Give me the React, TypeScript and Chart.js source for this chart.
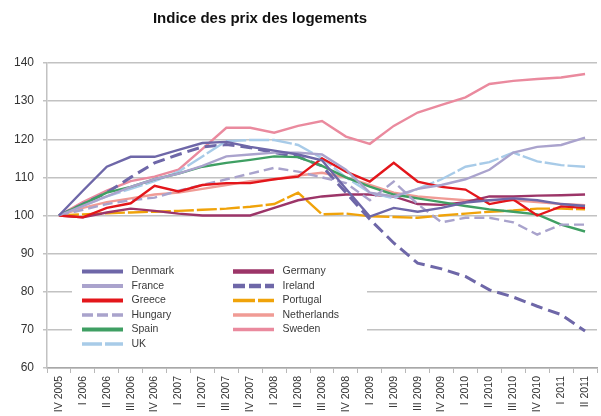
import React, { useEffect, useRef } from "react";
import { Chart, registerables } from "chart.js";

Chart.register(...registerables);

const TITLE = "Indice des prix des logements";

const categories = [
  "IV 2005", "I 2006", "II 2006", "III 2006", "IV 2006", "I 2007", "II 2007", "III 2007",
  "IV 2007", "I 2008", "II 2008", "III 2008", "IV 2008", "I 2009", "II 2009", "III 2009",
  "IV 2009", "I 2010", "II 2010", "III 2010", "IV 2010", "I 2011", "II 2011",
];

const denmark = [100, 106.5, 112.8, 115.4, 115.4, 117.2, 119, 119.3, 118, 117, 116, 114.5, 107, 99.7, 102, 101, 102, 103.4, 104, 104.5, 104, 103, 102.5];
const france = [100, 102.5, 105, 107.5, 109.5, 111, 113, 115.5, 116, 116.5, 116.5, 116, 112, 106, 105, 107, 108, 109.5, 112, 116.5, 118, 118.5, 120.4];
const greece = [100, 99.5, 102, 103.2, 107.8, 106.3, 108, 108.5, 108.5, 109.5, 110.2, 115, 111.5, 108.9, 113.8, 108.9, 107.5, 106.8, 103, 104.2, 100, 102.4, 102];
const hungary = [100, 101.5, 103, 104, 104.7, 106.5, 108, 109.5, 111, 112.5, 111.5, 110, 108.5, 104, 108.9, 103, 98.2, 99.4, 99.4, 98.2, 95, 97.6, 97.6];
const spain = [100, 103, 106, 107.5, 109.5, 111, 112.8, 113.8, 114.6, 115.5, 115.3, 113, 110, 107.6, 105.5, 104.5, 103.5, 102.5, 101.6, 101, 100.3, 97.6, 95.8];
const uk = [100, 102.5, 105, 107, 109, 111.5, 115.5, 119.5, 119.8, 119.8, 118.5, 115, 110, 106, 104.5, 107, 109.5, 112.8, 114, 116.5, 114.2, 113.2, 112.8];
const germany = [100, 99.5, 100.8, 101.8, 101.2, 100.5, 100, 100, 100, 102, 104, 105, 105.5, 105.5, 105, 103, 102.8, 103.5, 105, 105, 105.2, 105.3, 105.5];
const ireland = [100, 103, 106, 110, 113.8, 116, 118, 118.6, 117.8, 116.5, 115.4, 113, 106, 99, 92.8, 87.5, 86, 84, 80.5, 78.6, 76.2, 74, 69.7];
const portugal = [100, 100.3, 100.6, 100.8, 101, 101.2, 101.5, 101.8, 102.3, 103, 106, 100.3, 100.5, 99.8, 99.6, 99.4, 100, 100.5, 101, 101.3, 101.8, 101.8, 101.6];
const netherlands = [100, 102, 103.5, 104.5, 105.5, 106, 107, 108, 109, 109.5, 110.5, 111.2, 110, 108, 106, 105, 104.5, 104, 104, 104, 103.5, 103, 102.7];
const sweden = [100, 103.5, 106.5, 109, 110.2, 112, 117.5, 123, 123, 121.7, 123.5, 124.8, 120.7, 118.8, 123.5, 127, 129, 131, 134.5, 135.3, 135.8, 136.2, 137.1];

const yTicks = [60, 70, 80, 90, 100, 110, 120, 130, 140];

const SANS = '"Liberation Sans", Arial, Helvetica, sans-serif';

type SeriesDef = {
  label: string;
  data: number[];
  color: string;
  dash: number[];
  legendDash: number[];
  width: number;
  legendWidth: number;
};

const series: SeriesDef[] = [
  { label: "Denmark", data: denmark, color: "#6e67a8", dash: [], legendDash: [], width: 2.4, legendWidth: 4 },
  { label: "France", data: france, color: "#aaa3cd", dash: [], legendDash: [], width: 2.4, legendWidth: 4 },
  { label: "Greece", data: greece, color: "#e3161b", dash: [], legendDash: [], width: 2.4, legendWidth: 4 },
  { label: "Hungary", data: hungary, color: "#a9a3cc", dash: [10, 5], legendDash: [11, 4], width: 2.4, legendWidth: 3.5 },
  { label: "Spain", data: spain, color: "#3f9f63", dash: [], legendDash: [], width: 2.4, legendWidth: 4 },
  { label: "UK", data: uk, color: "#a8cbe8", dash: [20, 3], legendDash: [20, 3], width: 2.4, legendWidth: 3.5 },
  { label: "Germany", data: germany, color: "#9c3568", dash: [], legendDash: [], width: 2.4, legendWidth: 4.5 },
  { label: "Ireland", data: ireland, color: "#6e67a8", dash: [12, 6], legendDash: [12, 4], width: 3, legendWidth: 4.5 },
  { label: "Portugal", data: portugal, color: "#f0a30a", dash: [20, 3], legendDash: [22, 3], width: 2.4, legendWidth: 3.5 },
  { label: "Netherlands", data: netherlands, color: "#f09b95", dash: [], legendDash: [], width: 2.4, legendWidth: 3.5 },
  { label: "Sweden", data: sweden, color: "#ea8a9e", dash: [], legendDash: [], width: 2.4, legendWidth: 3.5 },
];

const titlePlugin = {
  id: "customTitle",
  afterDraw(chart: any) {
    const ctx = chart.ctx;
    ctx.save();
    ctx.font = "bold 15px " + SANS;
    ctx.fillStyle = "#111";
    ctx.textAlign = "center";
    ctx.textBaseline = "alphabetic";
    ctx.fillText(TITLE, 260, 23);
    ctx.restore();
  },
};

const boxLegendPlugin = {
  id: "boxLegend",
  beforeDatasetsDraw(chart: any) {
    const ctx = chart.ctx;
    ctx.save();
    ctx.fillStyle = "#ffffff";
    ctx.fillRect(72, 258, 295, 98);
    series.forEach((s, i) => {
      const col = i < 6 ? 0 : 1;
      const row = i < 6 ? i : i - 6;
      const y = 271.5 + row * 14.5;
      const x0 = col === 0 ? 82 : 233;
      ctx.strokeStyle = s.color;
      ctx.lineWidth = s.legendWidth;
      ctx.setLineDash(s.legendDash);
      ctx.beginPath();
      ctx.moveTo(x0, y);
      ctx.lineTo(x0 + 41, y);
      ctx.stroke();
      ctx.setLineDash([]);
      ctx.fillStyle = "#3a3a3a";
      ctx.font = "10.5px " + SANS;
      ctx.textAlign = "left";
      ctx.textBaseline = "middle";
      ctx.fillText(s.label, x0 + 49.5, y);
    });
    ctx.restore();
  },
};

export default function App() {
  const canvasRef = useRef<HTMLCanvasElement | null>(null);

  useEffect(() => {
    if (!canvasRef.current) return;
    const chart = new Chart(canvasRef.current, {
      type: "line",
      data: {
        labels: categories,
        datasets: series.map((s) => ({
          label: s.label,
          data: s.data,
          borderColor: s.color,
          backgroundColor: s.color,
          borderWidth: s.width,
          borderDash: s.dash,
          pointRadius: 0,
          pointHoverRadius: 0,
          tension: 0,
          fill: false,
        })),
      },
      options: {
        responsive: false,
        animation: false,
        devicePixelRatio: 1,
        layout: { padding: { top: 63, right: 4, left: 0, bottom: 0 } },
        plugins: {
          legend: { display: false },
          title: { display: false },
          tooltip: { enabled: false },
        },
        scales: {
          x: {
            type: "category",
            offset: true,
            grid: {
              drawOnChartArea: false,
              drawTicks: true,
              offset: true,
              tickLength: 5,
              color: "#b8b8b8",
              lineWidth: 1,
            },
            border: { display: true, color: "#a8a8a8", width: 1.5 },
            ticks: {
              autoSkip: false,
              maxRotation: 90,
              minRotation: 90,
              padding: 3,
              color: "#333",
              font: { family: SANS, size: 10.5 },
            },
            afterFit: (s: any) => {
              s.height = 48;
            },
          },
          y: {
            type: "linear",
            min: 60,
            max: 140,
            afterBuildTicks: (s: any) => {
              s.ticks = yTicks.map((v) => ({ value: v }));
            },
            grid: {
              color: "#c2c2c2",
              lineWidth: 1.5,
              tickLength: 4,
            },
            border: { display: true, color: "#c2c2c2", width: 1.5 },
            ticks: {
              padding: 9,
              color: "#333",
              font: { family: SANS, size: 12 },
            },
            afterFit: (s: any) => {
              s.width = 47;
            },
          },
        },
      },
      plugins: [boxLegendPlugin, titlePlugin],
    } as any);
    return () => chart.destroy();
  }, []);

  return (
    <div style={{ position: "absolute", left: 0, top: 0, width: 601, height: 416, background: "#fff" }}>
      <canvas ref={canvasRef} width={601} height={416} style={{ display: "block", width: 601, height: 416 }} />
    </div>
  );
}
